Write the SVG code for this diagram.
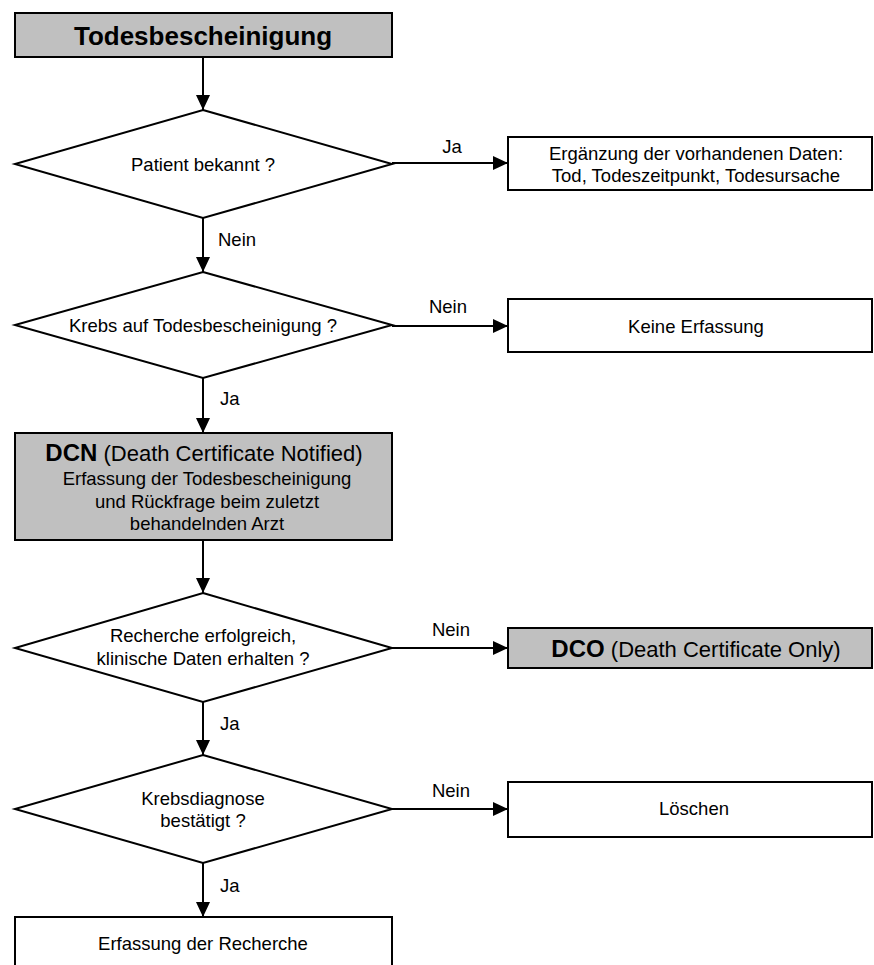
<svg xmlns="http://www.w3.org/2000/svg" width="874" height="965" viewBox="0 0 874 965">
<defs>
<style>
.box{fill:#fff;stroke:#000;stroke-width:2}
.grey{fill:#c0c0c0;stroke:#000;stroke-width:2}
.dia{fill:#fff;stroke:#000;stroke-width:2}
.con{stroke:#000;stroke-width:2;fill:none;marker-end:url(#arr)}
text{font-family:"Liberation Sans",Arial,sans-serif;fill:#000}
.t{font-size:18.5px;text-anchor:middle}
.lbl{font-size:18.5px}
.big{font-size:22px;text-anchor:middle}
.b{font-weight:bold;font-size:24px}
.title{font-size:26px;font-weight:bold;text-anchor:middle}
</style>
<marker id="arr" markerUnits="userSpaceOnUse" markerWidth="16" markerHeight="14" refX="15" refY="7" orient="auto">
<path d="M0,0 L15,7 L0,14 Z" fill="#000"/>
</marker>
</defs>
<g id="connectors">
<line class="con" x1="203" y1="57" x2="203" y2="110"/>
<line class="con" x1="392" y1="163" x2="508" y2="163"/>
<line class="con" x1="203" y1="218" x2="203" y2="272"/>
<line class="con" x1="392" y1="326" x2="508" y2="326"/>
<line class="con" x1="203" y1="378" x2="203" y2="433"/>
<line class="con" x1="203" y1="540" x2="203" y2="593"/>
<line class="con" x1="392" y1="648" x2="508" y2="648"/>
<line class="con" x1="203" y1="702" x2="203" y2="755"/>
<line class="con" x1="392" y1="809" x2="508" y2="809"/>
<line class="con" x1="203" y1="863" x2="203" y2="917"/>
<text class="lbl" x="452" y="153" text-anchor="middle">Ja</text>
<text class="lbl" x="218" y="246">Nein</text>
<text class="lbl" x="448" y="313" text-anchor="middle">Nein</text>
<text class="lbl" x="220" y="405">Ja</text>
<text class="lbl" x="451" y="636" text-anchor="middle">Nein</text>
<text class="lbl" x="220" y="730">Ja</text>
<text class="lbl" x="451" y="797" text-anchor="middle">Nein</text>
<text class="lbl" x="220" y="892">Ja</text>
</g>
<g id="start">
<rect class="grey" x="15" y="13" width="377" height="44"/>
<text class="title" x="203" y="45">Todesbescheinigung</text>
</g>
<g id="d1">
<polygon class="dia" points="203,110 392,164 203,218 15,164"/>
<text class="t" x="203" y="171">Patient bekannt ?</text>
</g>
<g id="erg">
<rect class="box" x="508" y="137" width="364" height="53"/>
<text class="t" x="696" y="160">Ergänzung der vorhandenen Daten:</text>
<text class="t" x="696" y="182">Tod, Todeszeitpunkt, Todesursache</text>
</g>
<g id="d2">
<polygon class="dia" points="203,272 392,325 203,378 15,325"/>
<text class="t" x="203" y="332">Krebs auf Todesbescheinigung ?</text>
</g>
<g id="keine">
<rect class="box" x="508" y="299" width="364" height="53"/>
<text class="t" x="696" y="333">Keine Erfassung</text>
</g>
<g id="dcn">
<rect class="grey" x="15" y="433" width="377" height="107"/>
<text class="big" x="204" y="461"><tspan class="b">DCN</tspan> (Death Certificate Notified)</text>
<text class="t" x="207" y="485">Erfassung der Todesbescheinigung</text>
<text class="t" x="207" y="508">und Rückfrage beim zuletzt</text>
<text class="t" x="207" y="530">behandelnden Arzt</text>
</g>
<g id="d3">
<polygon class="dia" points="203,593 392,648 203,702 15,648"/>
<text class="t" x="203" y="642">Recherche erfolgreich,</text>
<text class="t" x="203" y="665">klinische Daten erhalten ?</text>
</g>
<g id="dco">
<rect class="grey" x="508" y="628" width="364" height="40"/>
<text class="big" x="696" y="657"><tspan class="b">DCO</tspan> (Death Certificate Only)</text>
</g>
<g id="d4">
<polygon class="dia" points="203,755 392,809 203,863 15,809"/>
<text class="t" x="203" y="805">Krebsdiagnose</text>
<text class="t" x="203" y="827">bestätigt ?</text>
</g>
<g id="loeschen">
<rect class="box" x="508" y="782" width="364" height="55"/>
<text class="t" x="694" y="815">Löschen</text>
</g>
<g id="erfassung">
<rect class="box" x="15" y="917" width="377" height="70"/>
<text class="t" x="203" y="950">Erfassung der Recherche</text>
</g>
</svg>
